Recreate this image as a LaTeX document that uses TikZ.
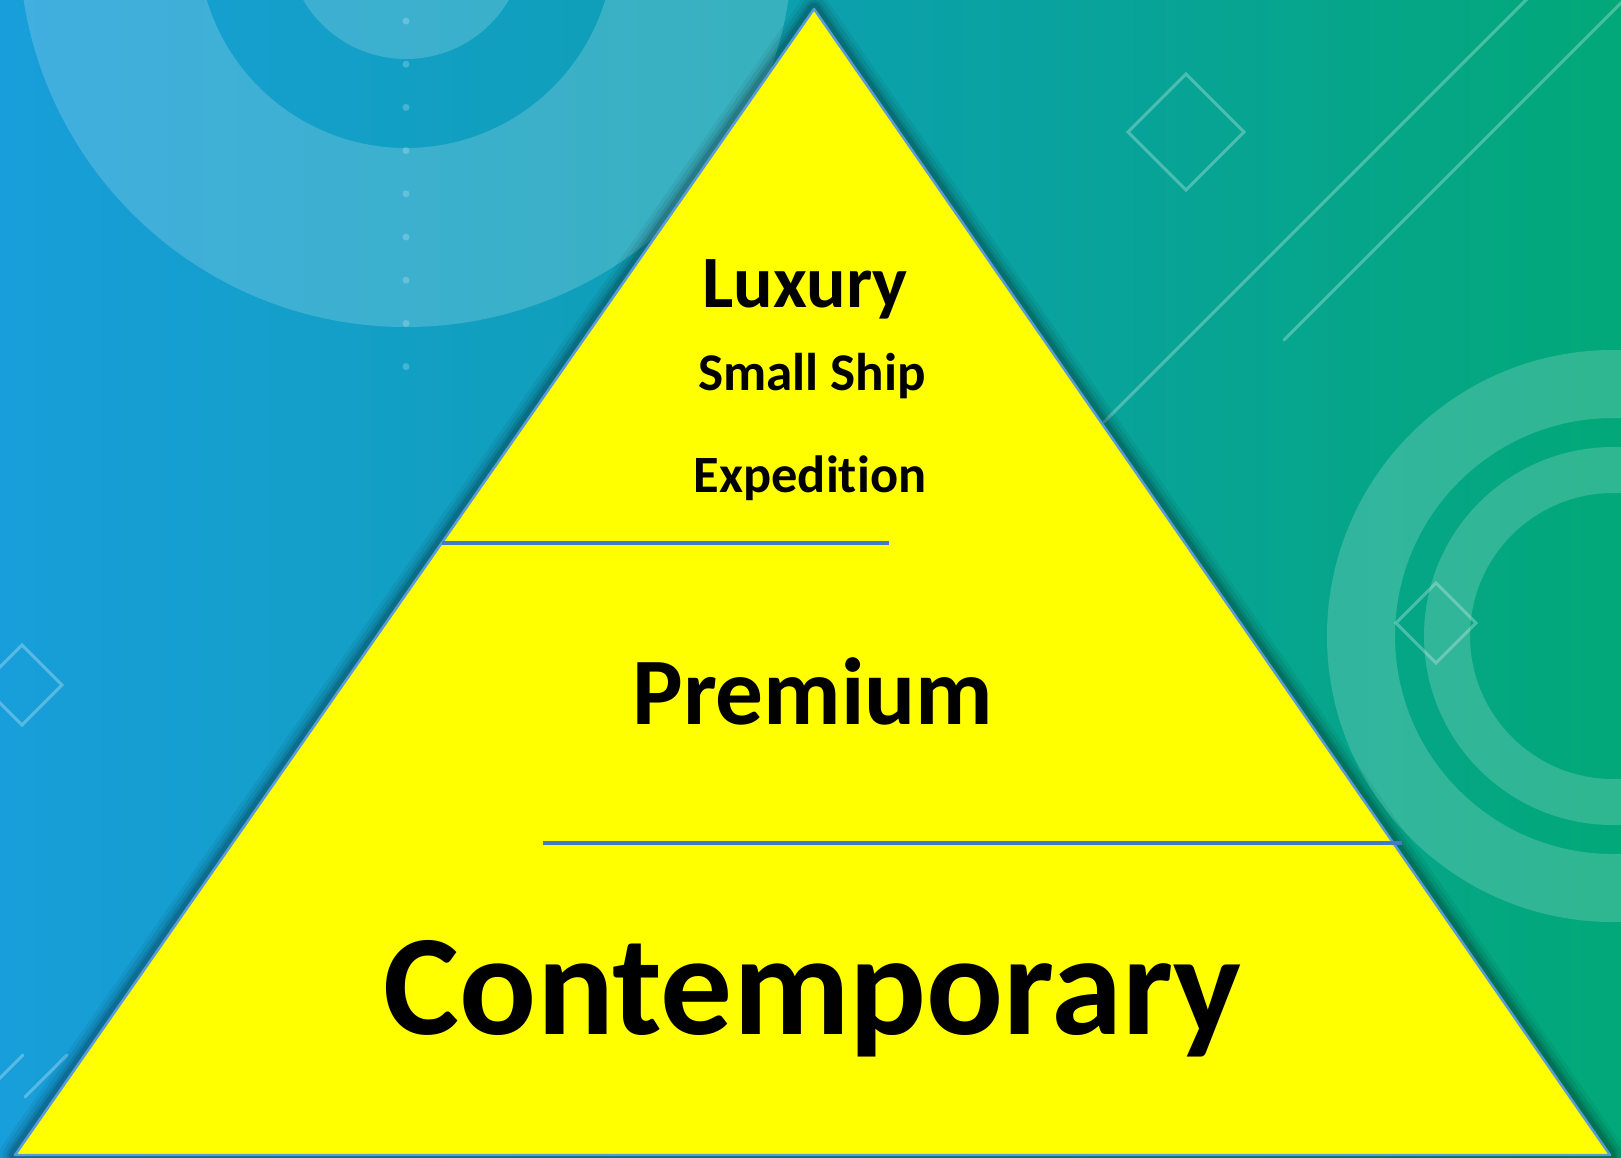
\documentclass[tikz,border=0pt]{standalone}
\usepackage{fontspec}
\setmainfont{Carlito}[Ligatures={NoCommon,NoRare,NoContextual}]
\definecolor{bgL}{RGB}{24,158,218}
\definecolor{bgM}{RGB}{12,160,174}
\definecolor{bgR}{RGB}{2,168,120}
\definecolor{pyrfill}{RGB}{255,255,0}
\definecolor{pyredge}{RGB}{91,155,213}
\definecolor{divcol}{RGB}{70,120,200}
\tikzset{
  deco/.style={white, opacity=0.18},
  decoline/.style={draw=white, draw opacity=0.28, line width=0.85pt, line cap=round},
  divider/.style={draw=divcol, line width=0.9pt},
  label/.style={inner sep=0pt, anchor=base, text=black, font=\bfseries},
}
\begin{document}
\begin{tikzpicture}[x=0.01cm,y=-0.01cm]
\useasboundingbox (0,0) rectangle (1621,1157);
\clip (0,0) rectangle (1621,1157);
% background
\fill[left color=bgL, right color=bgR, middle color=bgM] (0,0) rectangle (1621,1157);
% top-left circles
\fill[deco, even odd rule] (406,-60) circle (387) (406,-60) circle (208);
\fill[deco] (406,-60) circle (119);
\foreach \k in {0,...,8}{
  \fill[white, opacity=0.22] (406,{21+43.2*\k}) circle (3.5);
}
% right rings
\fill[deco, even odd rule] (1613,636) circle (286) (1613,636) circle (218);
\fill[deco, even odd rule] (1613,636) circle (189) (1613,636) circle (143);
% diamonds
\draw[decoline] (1186,74) -- (1244,132) -- (1186,190) -- (1128,132) -- cycle;
\draw[decoline] (1436,583) -- (1476,623) -- (1436,663) -- (1396,623) -- cycle;
\draw[decoline] (22,645) -- (62,685) -- (22,725) -- (-18,685) -- cycle;
% diagonal lines
\draw[decoline] (1104,422) -- (1530,-4);
\draw[decoline] (1284,340) -- (1628,-4);
\draw[decoline] (-12,1090) -- (23,1055);
\draw[decoline] (25,1097) -- (67,1055);
% pyramid
\coordinate (apex) at (814,9);
\coordinate (bl) at (15,1155);
\coordinate (br) at (1610,1155);
\foreach \w/\o in {9/0.05,7/0.07,5/0.09,3.5/0.12}{
  \draw[black, opacity=\o, line width=\w pt, line join=round] (apex) -- (bl) -- (br) -- cycle;
}
\filldraw[fill=pyrfill, draw=pyredge, line width=0.7pt, line join=round] (apex) -- (bl) -- (br) -- cycle;
% dividers
\coordinate (d1a) at (442,543);
\coordinate (d1b) at (889,543);
\coordinate (d2a) at (543,843);
\coordinate (d2b) at (1402,843);
\draw[divider] (d1a) -- (d1b);
\draw[divider] (d2a) -- (d2b);
% labels
\node[label, font=\bfseries\fontsize{21}{25}\selectfont] (lux) at (805,307) {Luxury};
\node[label, font=\bfseries\fontsize{15.1}{18}\selectfont] (small) at (812,390) {Small Ship};
\node[label, font=\bfseries\fontsize{14.9}{18}\selectfont] (exp) at (810,492) {Expedition};
\node[label, font=\bfseries\fontsize{27.1}{32}\selectfont] (prem) at (813,724) {Premium};
\node[label, font=\bfseries\fontsize{40.8}{48}\selectfont] (cont) at (813,1034) {Contemporary};
\end{tikzpicture}
\end{document}
